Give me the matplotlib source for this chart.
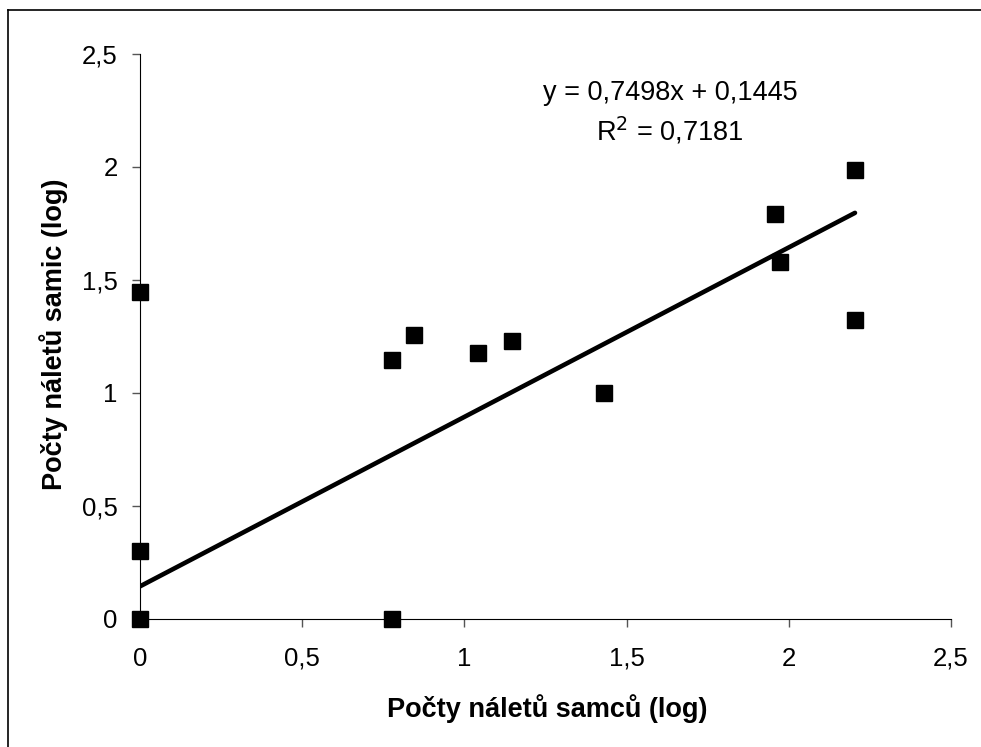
import numpy as np
import matplotlib.pyplot as plt
from matplotlib.lines import Line2D

# Data (log values)
samci = [0, 0, 0, 0.778, 0.778, 0.845, 1.041, 1.146, 1.431, 1.959, 1.973, 2.204, 2.204]
samice = [0, 0.301, 1.447, 0, 1.146, 1.255, 1.176, 1.23, 1.0, 1.792, 1.58, 1.987, 1.322]
slope = 0.7498
intercept = 0.1445
r2 = 0.7181
ticks = [0, 0.5, 1, 1.5, 2, 2.5]
tick_labels = ['0', '0,5', '1', '1,5', '2', '2,5']

plt.rcParams['font.family'] = ['Liberation Sans', 'DejaVu Sans']

fig = plt.figure(figsize=(9.81, 7.47), dpi=100)
ax = fig.add_axes([140 / 981, 1 - 619 / 747, (951 - 140) / 981, (619 - 54) / 747])

ax.plot(samci, samice, 's', color='black', markersize=12, zorder=3, clip_on=False)

# trend line from 0 to the largest x
xl = np.array([0, max(samci)])
ax.plot(xl, slope * xl + intercept, color='black', linewidth=3.3, solid_capstyle='round')

ax.set_xlim(0, 2.5)
ax.set_ylim(0, 2.5)
ax.set_xticks(ticks)
ax.set_xticklabels(tick_labels)
ax.set_yticks(ticks)
ax.set_yticklabels(tick_labels)
ax.tick_params(axis='both', labelsize=18.5, length=6, width=1, color='#555555', direction='out')
ax.tick_params(axis='x', pad=14)
ax.tick_params(axis='y', pad=10)
ax.spines['top'].set_visible(False)
ax.spines['right'].set_visible(False)

ax.set_xlabel('Počty náletů samců (log)', fontsize=19.5, fontweight='bold')
ax.set_ylabel('Počty náletů samic (log)', fontsize=19.5, fontweight='bold')
ax.xaxis.set_label_coords(547 / 981, 1 - 694 / 747, transform=fig.transFigure)
ax.yaxis.set_label_coords(68 / 981, 1 - 334 / 747, transform=fig.transFigure)

ax.text(670 / 981, 1 - 93 / 747, 'y = 0,7498x + 0,1445', transform=fig.transFigure,
        ha='center', va='center', fontsize=19.5)
ax.text(670 / 981, 1 - 131 / 747, 'R$^2$ = 0,7181', transform=fig.transFigure,
        ha='center', va='center', fontsize=19.5)

# outer frame (only top and left edges visible)
fig.add_artist(Line2D([7.5 / 981, 7.5 / 981], [0, 1 - 10 / 747], transform=fig.transFigure, color='black', linewidth=1.2))
fig.add_artist(Line2D([7.5 / 981, 1], [1 - 10 / 747, 1 - 10 / 747], transform=fig.transFigure, color='black', linewidth=1.2))

fig.savefig('out.png', dpi=100)
